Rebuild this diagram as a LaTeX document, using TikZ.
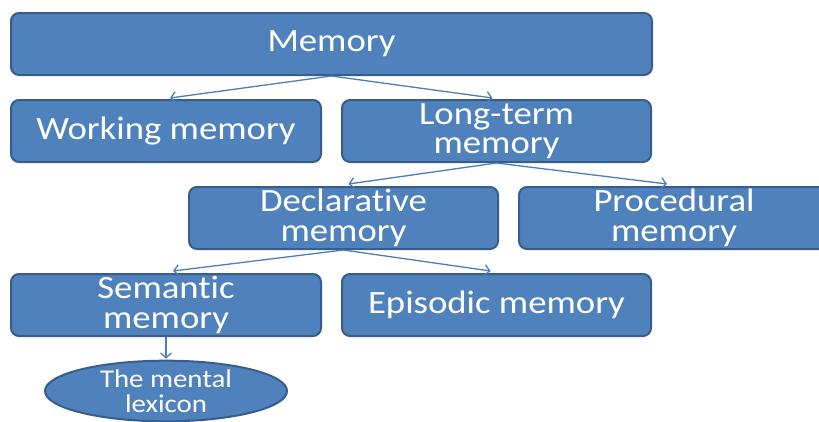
\documentclass[tikz,border=0pt]{standalone}
\usepackage{fontspec}
\setmainfont[Ligatures=NoCommon,FakeStretch=1.13]{Carlito}
\usetikzlibrary{arrows.meta,shapes.geometric}
\definecolor{boxfill}{HTML}{4F81BD}
\definecolor{boxline}{HTML}{385D8A}
\definecolor{arrcol}{HTML}{4A7EBB}
\tikzset{
  box/.style={draw=boxline, line width=2pt, fill=boxfill, rounded corners=8pt,
    minimum height=62pt, text=white, align=center, inner sep=2pt,
    font=\fontsize{32.5}{29.5}\selectfont},
  oval/.style={draw=boxline, line width=2pt, fill=boxfill, ellipse,
    minimum width=242pt, minimum height=60pt, inner sep=0pt, text=white, align=center,
    font=\fontsize{25.5}{25}\selectfont},
  arr/.style={draw=arrcol, line width=1.3pt, -{Straight Barb[length=5pt,width=11pt]}}
}
\begin{document}
\begin{tikzpicture}[x=1pt,y=-1pt]
\useasboundingbox (0,0) rectangle (819,421);
\clip (0,0) rectangle (819,421);
\node[box, minimum width=641pt] (mem) at (331.5,44) {Memory};
\node[box, minimum width=310pt] (wm) at (166,131) {Working memory};
\node[box, minimum width=309pt] (ltm) at (496.5,131) {Long-term\\memory};
\node[box, minimum width=309pt] (dec) at (343.5,218) {Declarative\\memory};
\node[box, minimum width=310pt] (proc) at (674,218) {Procedural\\memory};
\node[box, minimum width=310pt] (sem) at (166,305) {Semantic\\memory};
\node[box, minimum width=309pt] (epi) at (496.5,305) {Episodic memory};
\node[oval] (lex) at (166,391) {The mental\\lexicon};
\draw[arr] (mem.south) -- ([xshift=4pt,yshift=1pt]wm.north);
\draw[arr] (mem.south) -- ([xshift=-4pt,yshift=1pt]ltm.north);
\draw[arr] (ltm.south) -- ([xshift=5pt,yshift=2pt]dec.north);
\draw[arr] (ltm.south) -- ([xshift=-7pt,yshift=2pt]proc.north);
\draw[arr] (dec.south) -- ([xshift=7pt,yshift=2pt]sem.north);
\draw[arr] (dec.south) -- ([xshift=-6pt,yshift=2pt]epi.north);
\draw[arr] (sem.south) -- ([yshift=1pt]lex.north);
\end{tikzpicture}
\end{document}
